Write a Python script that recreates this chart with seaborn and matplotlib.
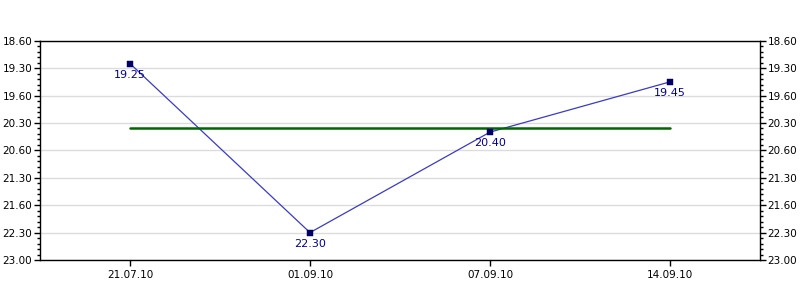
import matplotlib
matplotlib.use("Agg")
import matplotlib.pyplot as plt
from matplotlib.ticker import FixedLocator, MultipleLocator
import seaborn as sns
import pandas as pd
import numpy as np

dates = ["21.07.10", "01.09.10", "07.09.10", "14.09.10"]
times = ["19.25", "22.30", "20.40", "19.45"]
ytick_labels = ["18.60", "19.30", "19.60", "20.30", "20.60", "21.30", "21.60", "22.30", "23.00"]


def to_hours(s):
    h, m = s.split(".")
    return int(h) + int(m) / 60.0


values = [to_hours(t) for t in times]
ytick_vals = [to_hours(t) for t in ytick_labels]
mean_val = float(np.mean(values))

df = pd.DataFrame({"x": range(len(dates)), "y": values, "label": times})

sns.set_style("white")
plt.rcParams["font.family"] = ["DejaVu Sans"]
plt.rcParams["text.color"] = "black"
plt.rcParams["xtick.color"] = "black"
plt.rcParams["ytick.color"] = "black"

fig = plt.figure(figsize=(8, 3), dpi=100)
ax = fig.add_axes([0.05, 0.1333, 0.9, 0.7309])

ax.grid(False)
for v in ytick_vals:
    ax.axhline(v, color="#dcdcdc", lw=1, zorder=0)

sns.lineplot(data=df, x="x", y="y", ax=ax, color="#3a3acc", lw=0.9, zorder=2)
sns.lineplot(x=[0, len(dates) - 1], y=[mean_val, mean_val], ax=ax,
             color="#006600", lw=1.8, zorder=3)
sns.scatterplot(data=df, x="x", y="y", ax=ax, marker="s", s=16,
                color="#000066", edgecolor="#000066", zorder=4)

for _, r in df.iterrows():
    ax.annotate(r["label"], (r["x"], r["y"]), xytext=(0, -4.5), textcoords="offset points",
                ha="center", va="top", color="#000099", fontsize=8)

ax.set_xlim(-0.5, len(dates) - 0.5)
ax.set_ylim(ytick_vals[-1], ytick_vals[0])
ax.set_xticks(range(len(dates)))
ax.set_xticklabels(dates)
ax.yaxis.set_major_locator(FixedLocator(ytick_vals))
ax.set_yticklabels(ytick_labels)
ax.yaxis.set_minor_locator(MultipleLocator(0.1))
ax.set_xlabel("")
ax.set_ylabel("")

for sp in ax.spines.values():
    sp.set_visible(True)
    sp.set_color("black")
    sp.set_linewidth(1)

ax.tick_params(axis="y", which="major", left=True, right=True, labelleft=True, labelright=True,
               length=4, width=1, color="black", labelcolor="black", labelsize=7.5, pad=1.5)
ax.tick_params(axis="y", which="minor", left=True, right=True, length=2.5, width=1, color="black")
ax.tick_params(axis="x", which="major", bottom=True, length=4, width=1, color="black",
               labelcolor="black", labelsize=7.5, pad=3.5)

fig.savefig("out.png", dpi=100)
